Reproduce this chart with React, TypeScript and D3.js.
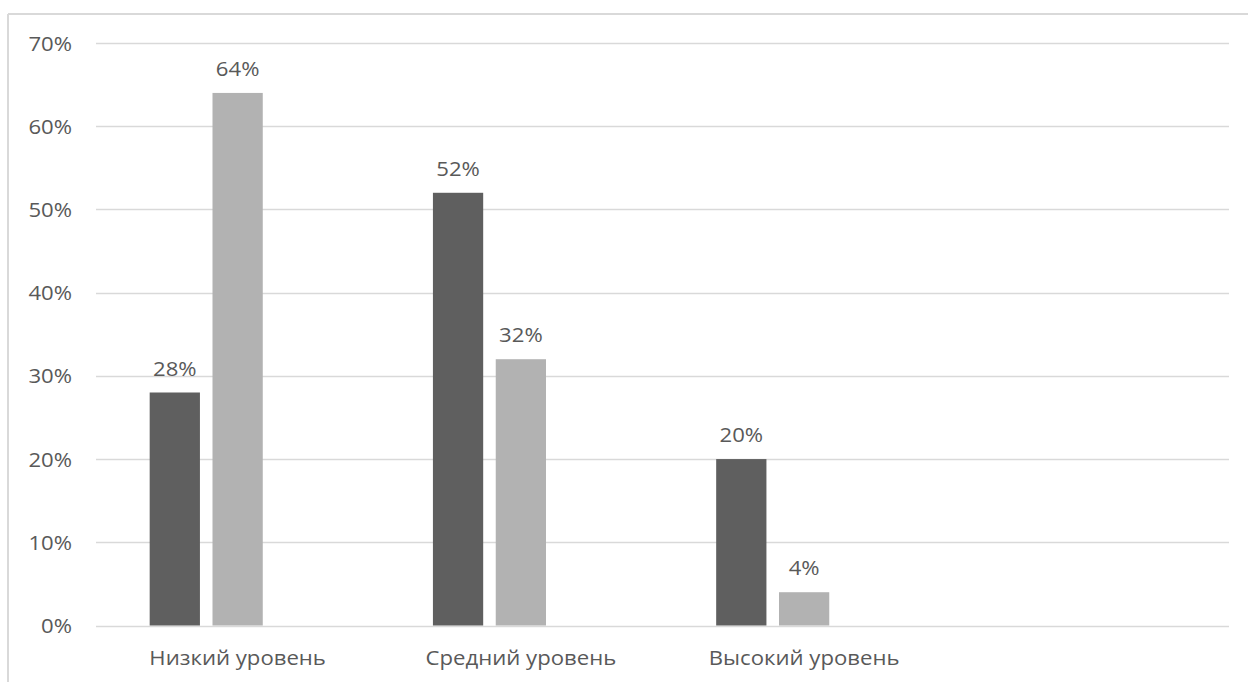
import React from "react";
import * as d3 from "d3";

const categories = ["Низкий уровень", "Средний уровень", "Высокий уровень", ""];
const seriesNames = ["Ряд 1", "Ряд 2", "Ряд 3"];
const series1 = [0.28, 0.52, 0.2, null];
const series2 = [0.64, 0.32, 0.04, null];
const series3: (number | null)[] = [null, null, null, null];
const yTicks = [0, 0.1, 0.2, 0.3, 0.4, 0.5, 0.6, 0.7];
const seriesColors = ["#5f5f5f", "#b2b2b2", "#8c8c8c"];

const W = 1248;
const H = 682;
const plot = { left: 96, right: 1229, top: 43, bottom: 625.5 };
const FONT = "'Open Sans', 'Segoe UI', sans-serif";
const TEXT = "#595959";
const SX = 1.08;
const FS = 20.5;

function Label({ x, y, anchor, size, children }: { x: number; y: number; anchor: string; size: number; children: React.ReactNode }) {
  return (
    <text
      transform={`translate(${x},${y}) scale(${SX},1)`}
      textAnchor={anchor as any}
      fontFamily={FONT}
      fontSize={size}
      fill={TEXT}
    >
      {children}
    </text>
  );
}

export default function App() {
  const y = d3.scaleLinear().domain([0, 0.7]).range([plot.bottom, plot.top]);
  const x0 = d3.scaleBand<string>().domain(categories.map((c, i) => String(i))).range([plot.left, plot.right]).padding(0);
  const groupW = x0.bandwidth() * 0.621;
  const x1 = d3.scaleBand<string>().domain(seriesNames).range([0, groupW]).paddingInner(0.2).paddingOuter(0);
  const allSeries = [series1, series2, series3];
  const fmt = d3.format(".0%");

  return (
    <svg width={W} height={H} style={{ position: "absolute", left: 0, top: 0, background: "#fff" }}>
      {/* chart frame */}
      <line x1={8} x2={W} y1={14} y2={14} stroke="#d9d9d9" strokeWidth={2} />
      <line x1={8} x2={8} y1={14} y2={H} stroke="#d9d9d9" strokeWidth={2} />

      {/* gridlines */}
      {yTicks.map((t) => (
        <line key={t} x1={plot.left} x2={plot.right} y1={Math.round(y(t)) + 0.5} y2={Math.round(y(t)) + 0.5} stroke="#d9d9d9" strokeWidth={1.3} />
      ))}

      {/* y tick labels */}
      {yTicks.map((t) => (
        <Label key={t} x={72} y={y(t) + 7.5} anchor="end" size={FS}>
          {fmt(t)}
        </Label>
      ))}

      {/* bars */}
      {allSeries.map((vals, si) =>
        vals.map((v, ci) => {
          if (v == null) return null;
          const gx = x0(String(ci))! + (x0.bandwidth() - groupW) / 2;
          const bx = gx + x1(seriesNames[si])!;
          return (
            <g key={`${si}-${ci}`}>
              <rect x={bx} y={y(v)} width={x1.bandwidth()} height={y(0) - y(v)} fill={seriesColors[si]} />
              <Label x={bx + x1.bandwidth() / 2} y={y(v) - 17} anchor="middle" size={FS}>
                {fmt(v)}
              </Label>
            </g>
          );
        })
      )}

      {/* category labels */}
      {categories.map((c, i) => (
        <Label key={i} x={x0(String(i))! + x0.bandwidth() / 2} y={665} anchor="middle" size={FS}>
          {c}
        </Label>
      ))}
    </svg>
  );
}
